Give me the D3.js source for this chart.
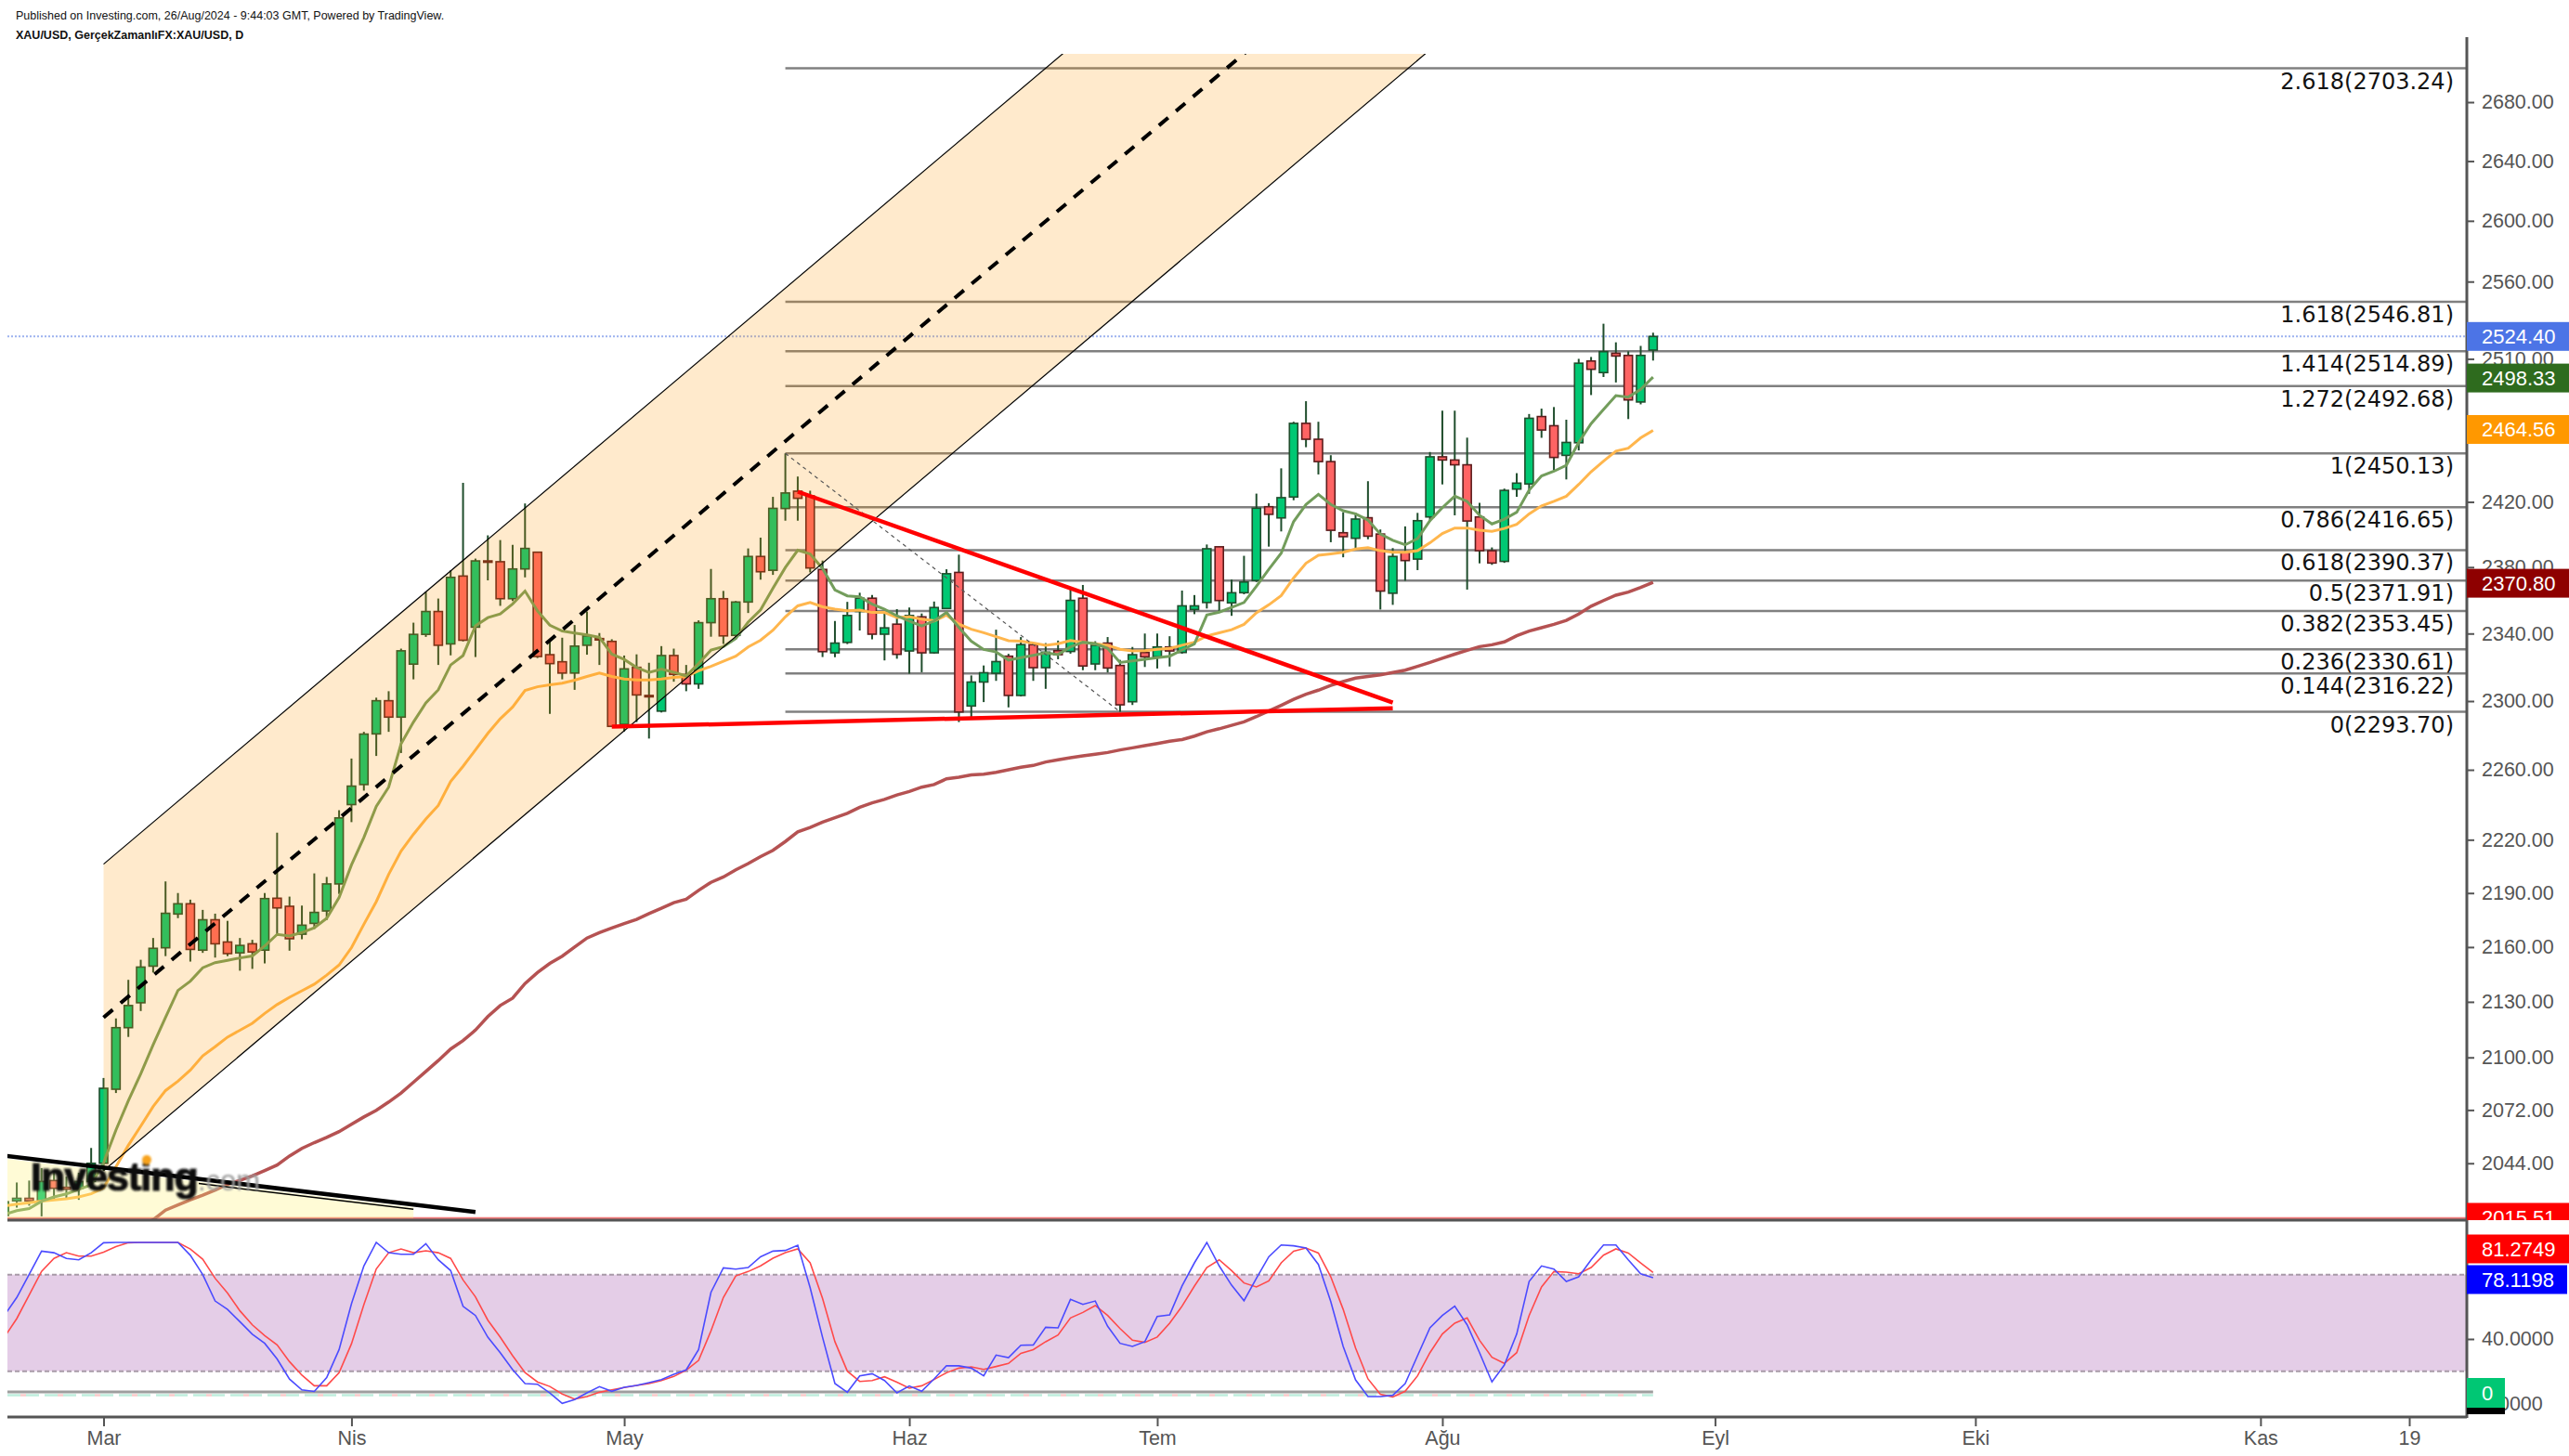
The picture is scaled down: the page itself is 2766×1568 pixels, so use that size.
<!DOCTYPE html>
<html><head><meta charset="utf-8">
<script src="https://cdn.jsdelivr.net/npm/d3@7"></script>
<style>
html,body{margin:0;padding:0;background:#fff;}
svg{display:block;}
</style></head>
<body>
<svg id="chart" width="2766" height="1568"></svg>
<script>
// ---------------- DATA ----------------
const startDate = "2024-02-20";
const holidays = ["2024-03-29"];

const opens = [2017,2024.5,2025.8,2024.5,2035,2031.5,2031,2034.5,2044,2083,
2116,2129.5,2149.5,2159.6,2178.3,2184,2158.3,2175.1,2162.8,2156.8,
2161.8,2158.3,2187.1,2182.6,2167.1,2173.1,2180,2195.1,2240,2251.5,
2280.8,2300.2,2290.6,2321.8,2339.5,2353.2,2333.8,2374.6,2343.8,2383.8,
2383.3,2360.9,2378.9,2389.1,2327.4,2323.2,2316.5,2333,2337,2335.3,
2286.4,2319.9,2303.3,2294.1,2326.9,2315.7,2310.1,2346.5,2360.9,2338.9,
2358.9,2386.5,2378.1,2415.9,2426.6,2423.7,2378.6,2328.5,2334.7,2353.2,
2361.2,2339.6,2345.6,2329.6,2350,2328.5,2355,2376.8,2297.1,2311.2,
2316.4,2326.5,2303.3,2333.4,2319.7,2329.8,2329.3,2361.2,2321.9,2334.3,
2321,2299.6,2328.7,2326.1,2332,2328.7,2354.4,2358.6,2392.4,2358.4,
2364.5,2371.9,2417,2410.1,2423,2469,2459,2445,2401,2397.6,
2410.2,2400.2,2364.2,2388.8,2384.9,2410.7,2448,2446,2443,2410.7,
2390,2383.5,2427.9,2431.1,2473.3,2467.5,2448.9,2456.8,2508.6,2501.2,
2513.6,2512.2,2482.5,2515.6];
const highs = [2032,2034,2035,2041.5,2040,2037,2039,2052,2089,2121,
2142,2153,2165,2196.5,2190,2186.3,2180.6,2178.5,2174.5,2165,
2164,2190,2224,2188,2183,2201,2199,2236.8,2266.5,2282,
2302,2305.8,2331,2346.5,2365,2361,2378,2431.8,2385.2,2399.4,
2396.5,2393.6,2419,2389.5,2335.3,2337.5,2345.1,2353.2,2340.3,2336.6,
2326.9,2327.6,2322.6,2332.5,2331,2321.3,2347.9,2378.9,2365.6,2359.5,
2391.4,2398,2423.1,2450.13,2435.7,2426.9,2384,2347.5,2359,2364.5,
2363.1,2352,2354.6,2355.6,2352,2359.2,2378.7,2387.6,2315.1,2321,
2342.3,2327.9,2337.9,2334,2334.3,2335.8,2366.4,2369.2,2335.4,2337.9,
2324.3,2332,2340,2340,2338.4,2365.8,2363.1,2393.8,2392.6,2372.5,
2386.9,2425.1,2419.2,2440.8,2470,2483,2470,2449,2413.6,2413.2,
2432.8,2403,2391.6,2404.9,2413.2,2451,2477,2477,2460,2419.4,
2392,2428.2,2437.8,2474.9,2478.3,2479.3,2471.3,2510,2511.2,2532.6,
2520.6,2514.8,2518.3,2526.8];
const lows = [2013,2021,2022,2016.5,2025,2026,2025,2031,2040,2081,
2111,2125,2146,2155,2176,2152,2156.8,2154.2,2155,2147,
2148,2151,2167,2158,2164.3,2170,2175,2189.5,2230,2248,
2268,2282,2269.7,2312.8,2338,2321.3,2327,2335.3,2326,2372,
2356.6,2359.5,2373.8,2325.4,2292.5,2312.8,2306.6,2327.4,2321.3,2285,
2282.2,2287.7,2278.1,2293.3,2311.4,2305.8,2307.2,2338.1,2333.8,2336.6,
2352.3,2372.4,2375.3,2408.4,2408.4,2376.8,2326,2325.9,2333.7,2341.8,
2336.5,2324,2325,2316.1,2317,2328,2354.6,2287.7,2290.7,2299.4,
2311.9,2296.3,2302.7,2311.9,2307.2,2324.7,2328,2318.2,2318.2,2316.9,
2293.7,2297.7,2320.1,2319.2,2320.4,2328,2351.6,2355,2352.4,2350.6,
2363.6,2371,2392.5,2401.8,2421,2454,2437,2395.2,2386,2390.7,
2397,2354.4,2357.2,2371.7,2378.2,2408,2430.8,2411.7,2366.4,2382.3,
2381.4,2382.6,2423.1,2425,2459.9,2439.6,2433.9,2452,2486.9,2498.4,
2494.9,2471.7,2481,2508.9];
const closes = [2024,2025.8,2024.5,2034.5,2031,2030.5,2034.5,2044,2083.5,2116,
2128,2149,2159.3,2178.7,2184,2158.7,2175.1,2161.8,2156.4,2160.9,
2157.3,2186.9,2181.7,2164.6,2172.1,2179.2,2195.1,2232.4,2250.6,2280.7,
2300.2,2290.6,2329.7,2339.5,2353.2,2333,2373.8,2336,2383.8,2383.3,
2360.9,2378.9,2391.4,2326.3,2322.1,2316.5,2332.5,2338.6,2336.2,2285.2,
2319,2303.6,2302.8,2326.9,2315.7,2310.1,2346.5,2360.9,2338.6,2358.9,
2386.5,2377.2,2416,2425.5,2422.2,2379.5,2329.2,2334.3,2350.8,2361.2,
2339.6,2343.4,2327.6,2350.8,2328.5,2355.6,2376,2293.6,2311.2,2316.7,
2323.3,2303.3,2333.4,2319.7,2328.9,2327.4,2359.9,2320.7,2333,2319.5,
2297.8,2327.4,2326.1,2332,2329.6,2356.6,2356.6,2391.2,2359.8,2364.5,
2371,2416.1,2412.3,2422.6,2469,2459,2445,2402.5,2398.6,2409.4,
2398.9,2365.5,2386.5,2384,2408.4,2448,2446,2443,2408.2,2390,
2382.5,2427.1,2431.6,2472.2,2464.8,2447.6,2457,2507.2,2503.3,2514.6,
2511.8,2483.8,2512.2,2524.40];

const maFast = [2017.5,2019.4,2020.5,2024.3,2026.5,2028.1,2030.4,2032.8,2044.3,2061.4,
2076.9,2091.2,2106.8,2121.6,2136.2,2141.3,2148.6,2151.4,2152.7,2154,
2155.1,2160.6,2167,2166.1,2168,2170.7,2175.9,2187.5,2205.8,2221.3,
2239,2250,2275,2287.7,2298.9,2306.6,2321.3,2326.9,2344.6,2349.5,
2351.7,2357.8,2365.5,2353.6,2345,2341.5,2340.3,2339.2,2337.7,2327.7,
2324.6,2319.8,2316.9,2318.8,2317,2314.8,2322.2,2330.1,2332.2,2337,
2346.8,2354.2,2367.2,2379.8,2390.3,2388.1,2379.2,2366.2,2362.6,2362,
2357.6,2354.6,2350.6,2347.5,2344.5,2347.5,2352.6,2343.6,2335.4,2330.5,
2329,2324.2,2325.6,2327,2328.5,2327.5,2332,2334.8,2333.9,2331.1,
2322.8,2323.7,2324.7,2325.6,2326.5,2330.2,2333.9,2351.1,2352.8,2355.7,
2358.6,2368.4,2378.7,2388.5,2407.8,2418.4,2424.6,2418.4,2414.5,2412.6,
2408.8,2400.2,2396.4,2393.6,2397.4,2408.4,2416.4,2423.5,2420.3,2411.7,
2406.4,2409.3,2413.6,2427.3,2436.1,2439,2442.7,2457,2468.8,2477.7,
2486.5,2485.6,2490.5,2498.33];
const maMid = [2021.9,2022.8,2023.5,2024.3,2025,2025.6,2026.5,2028.1,2031.2,2042.2,
2053.4,2063.5,2073.8,2082.3,2087.3,2093.2,2100.8,2105.7,2110.9,2114.6,
2118.4,2123.7,2128.5,2132.5,2136,2139.6,2144.6,2150.1,2159.7,2172.6,
2185.2,2200.5,2213.6,2223.1,2231.8,2239.5,2253.3,2262,2271.5,2281.1,
2289.6,2296.5,2306.2,2308.4,2309.6,2310.5,2312.3,2314.5,2316.5,2314.5,
2313,2312.4,2312.4,2313,2314,2314.5,2317.9,2320.5,2323.5,2326.5,
2332,2336,2342,2350,2356.6,2358.6,2356,2354.6,2353.6,2354,
2352.6,2352.6,2349.6,2350,2348.6,2347.6,2351,2345.6,2342.6,2340.5,
2338.1,2335.7,2335.4,2334.3,2333,2333.9,2335.8,2334.8,2333.9,2333,
2330.6,2329.6,2329.8,2330.6,2331.1,2333,2334.8,2338.6,2340.4,2342.3,
2345.5,2352.4,2357.2,2362.8,2373.4,2382.4,2387.2,2388.1,2389.1,2391,
2391.9,2390,2389.1,2389.1,2390,2394.8,2400.5,2403.9,2403.9,2402.6,
2401.9,2403.6,2406.2,2412.6,2417.5,2420.3,2423.5,2430.8,2438.7,2445.3,
2451.5,2453.4,2459.9,2464.56];
const maSlow = [null,null,null,null,null,null,null,null,null,null,
null,2012,2014.7,2019.7,2022.4,2025,2027.4,2030.1,2033,2035.1,
2037.4,2040.2,2043.1,2047.8,2051.8,2054.8,2057.6,2060.6,2064.5,2068.3,
2071.8,2076.2,2081,2086.7,2092.5,2098.3,2104.5,2109,2114.7,2122,
2128,2132,2140,2146,2151,2155,2160,2165,2168,2170.5,
2173,2175.3,2178.5,2181.5,2184.6,2186.5,2191.5,2196,2199,2203,
2206.5,2210.5,2214,2219,2224.5,2227,2230,2232.5,2235,2238.5,
2241,2243,2245.5,2247.5,2250,2251.5,2254.8,2255.7,2257,2257.5,
2258.5,2260,2261.5,2262.5,2264.5,2265.8,2267,2268,2269,2270,
2271.5,2272.7,2274,2275.2,2276.5,2277.5,2279.5,2282,2283.8,2285.8,
2287.8,2290.9,2294.2,2297.5,2301,2304,2306.4,2309.2,2311.5,2313.5,
2314.5,2315.5,2316.8,2318.2,2320.5,2322.8,2325.3,2327.7,2330,2332.2,
2333.3,2335,2338.7,2341.5,2343.5,2345.5,2347.9,2351.7,2356.4,2359.8,
2363,2364.9,2367.7,2370.80];

const stochK = [54.6,65.8,80.2,94.6,93.6,90,89.2,93.6,99.8,100,
100,100,100,100,100,92,80,63.6,58.4,50.7,
43,37.3,27.6,15.1,8.4,7.4,16,33.4,61.9,85.4,
100,93.6,92.6,92.6,99.2,89.2,82.5,60.3,54.6,41.1,
31.5,20.9,12.3,11.9,6.5,0,2.3,6.5,10.4,7.5,
10,11.1,12.9,14.8,18,20.8,33.4,69,84.2,83.4,
84.4,91.1,94.6,95,98.2,71.9,41.1,12.3,6.9,17.1,
18.4,14.2,6.5,10.8,7.5,15.2,23.4,23.3,21.9,17.1,
30,28.4,36.1,36.3,47.3,46.9,64.6,61.5,63.6,47.9,
37.3,35.4,38.3,54,55,72.9,87.3,100,85.4,73.4,
63.8,77.7,91.1,98.4,97.9,96.5,86.3,63.2,35.4,14.6,
4.2,4.2,5,12.3,29.6,46.9,54.6,60.4,48.8,31.5,
13.3,23.8,43.1,75.7,85.4,83.4,75.7,78.6,89.2,98.4,
98.4,89.2,80.5,78.1198];
const stochD = [41.1,52.7,67.3,82,90.1,93.6,91.5,91.5,94,97.4,
99.8,100,100,100,100,95.9,89.6,77.7,68.5,57.5,
48.8,42.1,36.3,25.9,17.5,10.9,10.9,19.1,37,61.3,
83.5,93.6,95.9,93.6,94.8,93.6,90.1,76.7,66.2,51.7,
41.1,29.6,19.1,13.3,10.5,5.8,2.7,4.2,6.9,8.4,
9.8,11.1,12.3,14.2,16.7,20.6,26.7,45,65.8,79.2,
81.9,85.4,90.2,93.6,96,87.3,65.2,38.3,20,13.6,
14.2,16.5,13.2,9.4,10.9,14.8,19,21.9,22.7,21.1,
22.9,24.8,31.1,33.4,38.3,42.5,53.1,56.5,60.8,54.6,
46.5,39.2,37.9,41.2,49.8,60.4,72.9,84.4,89.2,82.5,
74.8,72.3,76.1,87.3,94.6,96.5,93.4,78.6,58.4,34.4,
15.2,5.6,4,7.5,17.1,31.5,43.1,49.8,53.1,39.2,
28.6,24.8,31.5,54.6,72.3,81.9,81.5,80.5,84.4,92.1,
96,93.4,87.3,81.2749];

const fibNames = ["0","0.144","0.236","0.382","0.5","0.618","0.786","1","1.272","1.414","1.618","2.618"];
const fibValues = [2293.70,2316.22,2330.61,2353.45,2371.91,2390.37,2416.65,2450.13,2492.68,2514.89,2546.81,2703.24];
const fibStartDate = "2024-05-20";
const fibEndDate = "2024-06-26";

const channelDates = ["2024-03-01","2024-05-15"];
const channelUpper = [2206.2,2535.3];
const channelMid = [2121.5,2438.1];
const channelLower = [2040.1,2344.5];

const triUpperDates = ["2024-05-21","2024-07-26"];
const triUpperPrices = [2426.3,2299.1];
const triLowerDates = ["2024-04-30","2024-07-26"];
const triLowerPrices = [2285.0,2295.8];

const trendDates = ["2024-02-20","2024-04-15"];
const trendPrices = [2048.0,2018.7];
const zoneEndDate = "2024-04-08";
const supportLevel = 2015.51;

const priceTicks = [2680,2640,2600,2560,2510,2420,2380,2340,2300,2260,2220,2190,2160,2130,2100,2072,2044];
const stochTicks = [0,40];
const monthTickDates = ["2024-03-01","2024-04-01","2024-05-01","2024-06-03","2024-07-01","2024-08-01","2024-09-02","2024-10-01","2024-11-01","2024-11-19"];
const monthTickLabels = ["Mar","Nis","May","Haz","Tem","Ağu","Eyl","Eki","Kas","19"];
const zeroIndicator = 0;

// ---------------- HELPERS ----------------
function tradingDates(start, n){
  const out=[]; const d=new Date(start+"T00:00:00Z");
  while(out.length<n){
    const wd=d.getUTCDay(); const s=d.toISOString().slice(0,10);
    if(wd!==0 && wd!==6 && !holidays.includes(s)) out.push(s);
    d.setUTCDate(d.getUTCDate()+1);
  }
  return out;
}
const dates = tradingDates(startDate, 200);
const idx = s => dates.indexOf(s);

const W=2766, H=1568, L=8, R=2656, T=58, MB=1314, SB=1526;
const FONT = "'Liberation Sans', Arial, sans-serif";

const svg = d3.select("#chart");
svg.append("rect").attr("width",W).attr("height",H).attr("fill","#fff");

const x = d3.scaleLinear().domain([8,194]).range([111.5,2594]);
const y = d3.scaleLog().domain([2300,2680]).range([755,110]);
const ys = d3.scaleLinear().domain([0,100]).range([1511.3,1338]);

const defs = svg.append("defs");
defs.append("clipPath").attr("id","mainClip").append("rect").attr("x",L).attr("y",T).attr("width",R-L).attr("height",MB-T);
defs.append("clipPath").attr("id","stochClip").append("rect").attr("x",L).attr("y",MB).attr("width",R-L).attr("height",SB-MB);
defs.append("clipPath").attr("id","lblClip").append("rect").attr("x",R).attr("y",T-20).attr("width",W-R).attr("height",MB-T+20);
const blur = defs.append("filter").attr("id","blur").attr("x","-5%").attr("y","-20%").attr("width","110%").attr("height","140%");
blur.append("feGaussianBlur").attr("stdDeviation",0.9);

// ---------------- HEADER ----------------
svg.append("text").attr("x",17).attr("y",21).attr("font-family",FONT).attr("font-size",12.5).attr("fill","#111")
  .text("Published on Investing.com, 26/Aug/2024 - 9:44:03 GMT, Powered by TradingView.");
svg.append("text").attr("x",17).attr("y",42).attr("font-family",FONT).attr("font-size",12.5).attr("font-weight","bold").attr("fill","#111")
  .text("XAU/USD, GerçekZamanlıFX:XAU/USD, D");

// ---------------- MAIN PANEL ----------------
const main = svg.append("g").attr("clip-path","url(#mainClip)");

main.append("line").attr("x1",L).attr("x2",R).attr("y1",y(closes[closes.length-1])).attr("y2",y(closes[closes.length-1]))
  .attr("stroke","#9db2ef").attr("stroke-width",2).attr("stroke-dasharray","2,2");
main.append("line").attr("x1",L).attr("x2",R).attr("y1",y(supportLevel)).attr("y2",y(supportLevel))
  .attr("stroke","#f07a7a").attr("stroke-width",2.5);

const fx0 = x(idx(fibStartDate));
main.selectAll("line.fib").data(fibValues).enter().append("line").attr("class","fib")
  .attr("x1",fx0).attr("x2",R).attr("y1",d=>y(d)).attr("y2",d=>y(d))
  .attr("stroke","#808080").attr("stroke-width",2.5);

const bars = d3.range(closes.length);
const cg = main.append("g");
cg.selectAll("line.wick").data(bars).enter().append("line")
  .attr("x1",i=>x(i)).attr("x2",i=>x(i)).attr("y1",i=>y(highs[i])).attr("y2",i=>y(lows[i]))
  .attr("stroke","#1f4d2c").attr("stroke-width",2);
cg.selectAll("rect.body").data(bars).enter().append("rect")
  .attr("x",i=>x(i)-4.5).attr("width",9)
  .attr("y",i=>y(Math.max(opens[i],closes[i])))
  .attr("height",i=>Math.max(1.5,Math.abs(y(opens[i])-y(closes[i]))))
  .attr("fill",i=>closes[i]>=opens[i]?"#00c873":"#ff6464")
  .attr("stroke",i=>closes[i]>=opens[i]?"#1f4d2c":"#5c1c1c").attr("stroke-width",1.6);

const lineP = arr => d3.line().defined(i=>arr[i]!=null).x(i=>x(i)).y(i=>y(arr[i]));
main.append("path").attr("d",lineP(maSlow)(bars)).attr("fill","none").attr("stroke","#b55252").attr("stroke-width",3.5);
main.append("path").attr("d",lineP(maMid)(bars)).attr("fill","none").attr("stroke","#ffb64d").attr("stroke-width",3);
main.append("path").attr("d",lineP(maFast)(bars)).attr("fill","none").attr("stroke","#739d5c").attr("stroke-width",3);

function extLine(dts, prices){
  const x1=x(idx(dts[0])), y1=y(prices[0]), x2=x(idx(dts[1])), y2=y(prices[1]);
  const m=(y2-y1)/(x2-x1);
  return [[x1,y1],[R+50, y1+m*(R+50-x1)]];
}
const up = extLine(channelDates, channelUpper);
const lo = extLine(channelDates, channelLower);
const mid = extLine(channelDates, channelMid);
main.append("path").attr("d", d3.line()([up[0],up[1],lo[1],lo[0]])+"Z")
  .attr("fill","rgba(255,152,0,0.2)").attr("stroke","none");
main.append("path").attr("d",d3.line()(up)).attr("stroke","#000").attr("stroke-width",1.2).attr("fill","none");
main.append("path").attr("d",d3.line()(lo)).attr("stroke","#000").attr("stroke-width",1.2).attr("fill","none");
main.append("path").attr("d",d3.line()(mid)).attr("stroke","#000").attr("stroke-width",4).attr("stroke-dasharray","13,11").attr("fill","none");

main.append("line").attr("x1",fx0).attr("y1",y(fibValues[7])).attr("x2",x(idx(fibEndDate))).attr("y2",y(fibValues[0]))
  .attr("stroke","#555").attr("stroke-width",1.2).attr("stroke-dasharray","4,4");

main.append("line").attr("x1",x(idx(triUpperDates[0]))).attr("y1",y(triUpperPrices[0]))
  .attr("x2",x(idx(triUpperDates[1]))).attr("y2",y(triUpperPrices[1]))
  .attr("stroke","#ff0000").attr("stroke-width",4.5);
main.append("line").attr("x1",x(idx(triLowerDates[0]))).attr("y1",y(triLowerPrices[0]))
  .attr("x2",x(idx(triLowerDates[1]))).attr("y2",y(triLowerPrices[1]))
  .attr("stroke","#ff0000").attr("stroke-width",4.5);

const tx1=x(idx(trendDates[0])), ty1=y(trendPrices[0]), tx2=x(idx(trendDates[1])), ty2=y(trendPrices[1]);
const tm=(ty2-ty1)/(tx2-tx1);
const zx1=L, zx2=x(idx(zoneEndDate));
main.append("path").attr("d", d3.line()([[zx1,ty1+tm*(zx1-tx1)+3],[zx2,ty1+tm*(zx2-tx1)+3],[zx2,y(supportLevel)],[zx1,y(supportLevel)]])+"Z")
  .attr("fill","rgba(255,241,118,0.3)");
main.append("line").attr("x1",214).attr("y1",ty1+tm*(214-tx1)+5).attr("x2",zx2).attr("y2",ty1+tm*(zx2-tx1)+5)
  .attr("stroke","#000").attr("stroke-width",1.5);
main.append("line").attr("x1",tx1).attr("y1",ty1).attr("x2",tx2).attr("y2",ty2)
  .attr("stroke","#000").attr("stroke-width",4.5);

const wm = main.append("g").attr("filter","url(#blur)");
wm.append("text").attr("x",33).attr("y",1282).attr("font-family",FONT).attr("font-weight","bold").attr("font-size",43)
  .attr("letter-spacing",-1).attr("fill","#111").attr("stroke","#111").attr("stroke-width",1.2).text("Investing");
wm.append("text").attr("x",213).attr("y",1282).attr("font-family",FONT).attr("font-size",31).attr("fill","#9c9c9c").text(".com");
wm.append("circle").attr("cx",158).attr("cy",1249).attr("r",5).attr("fill","#f7a21b");

svg.append("g").selectAll("text").data(fibValues).enter().append("text")
  .attr("x",2642).attr("y",d=>y(d)+22).attr("text-anchor","end")
  .attr("font-family","'DejaVu Sans', Verdana, sans-serif").attr("font-size",24).attr("fill","#131313")
  .text((d,i)=>fibNames[i]+"("+d.toFixed(2)+")");

// ---------------- STOCH PANEL ----------------
const st = svg.append("g").attr("clip-path","url(#stochClip)");
st.append("rect").attr("x",L).attr("width",R-L).attr("y",ys(80)).attr("height",ys(20)-ys(80)).attr("fill","#e4cde7");
[80,20].forEach(v=>st.append("line").attr("x1",L).attr("x2",R).attr("y1",ys(v)).attr("y2",ys(v))
  .attr("stroke","#a89aa8").attr("stroke-width",2).attr("stroke-dasharray","5,3"));
st.append("line").attr("x1",L).attr("x2",x(bars.length-1)).attr("y1",1499).attr("y2",1499).attr("stroke","#9e9e9e").attr("stroke-width",3);
st.append("line").attr("x1",L).attr("x2",x(bars.length-1)).attr("y1",1502.5).attr("y2",1502.5).attr("stroke","#bfeedd").attr("stroke-width",2.5).attr("stroke-dasharray","14,6");
st.append("line").attr("x1",L+14).attr("x2",x(bars.length-1)).attr("y1",1502.5).attr("y2",1502.5).attr("stroke","#f9caca").attr("stroke-width",2.5).attr("stroke-dasharray","6,34");
const sLine = arr => d3.line().x(i=>x(i)).y(i=>ys(arr[i]));
st.append("path").attr("d",sLine(stochD)(bars)).attr("fill","none").attr("stroke","#ff4a4a").attr("stroke-width",1.6);
st.append("path").attr("d",sLine(stochK)(bars)).attr("fill","none").attr("stroke","#4b4bff").attr("stroke-width",1.6);

// ---------------- AXES ----------------
const styleAxis = g => {
  g.select(".domain").remove();
  g.selectAll(".tick line").attr("stroke","#555").attr("stroke-width",2);
  g.selectAll(".tick text").attr("font-family",FONT).attr("font-size",21.5).attr("fill","#555");
};
svg.append("g").attr("transform",`translate(${R},0)`)
  .call(d3.axisRight(y).tickValues(priceTicks).tickFormat(d=>d.toFixed(2)).tickSize(8).tickPadding(8)).call(styleAxis);
svg.append("g").attr("transform",`translate(${R},0)`)
  .call(d3.axisRight(ys).tickValues(stochTicks).tickFormat(d=>d.toFixed(4)).tickSize(8).tickPadding(8)).call(styleAxis);
svg.append("g").attr("transform",`translate(0,${SB})`)
  .call(d3.axisBottom(x).tickValues(monthTickDates.map(idx)).tickFormat((d,i)=>monthTickLabels[i]).tickSize(10).tickPadding(5))
  .call(styleAxis);

svg.append("line").attr("x1",R).attr("x2",R).attr("y1",T-18).attr("y2",SB+1).attr("stroke","#555").attr("stroke-width",3);
svg.append("line").attr("x1",L).attr("x2",R).attr("y1",MB).attr("y2",MB).attr("stroke","#555").attr("stroke-width",3);
svg.append("line").attr("x1",L).attr("x2",R).attr("y1",SB).attr("y2",SB).attr("stroke","#555").attr("stroke-width",3);

// ---------------- PRICE LABELS ----------------
function tag(cy, color, text, clip, w){
  const g = svg.append("g");
  if(clip) g.attr("clip-path","url(#lblClip)");
  g.append("rect").attr("x",R).attr("y",cy-15.5).attr("width",w||(W-R)).attr("height",31).attr("fill",color);
  g.append("text").attr("x",R+16).attr("y",cy).attr("dy","0.36em").attr("font-family",FONT).attr("font-size",22)
    .attr("fill","#fff").text(text);
}
tag(y(closes[closes.length-1]), "#4c74e6", closes[closes.length-1].toFixed(2));
tag(y(maFast[maFast.length-1])+1, "#2e6b1e", maFast[maFast.length-1].toFixed(2));
tag(y(maMid[maMid.length-1])-1, "#ff9800", maMid[maMid.length-1].toFixed(2));
tag(y(maSlow[maSlow.length-1])+1, "#8e0000", maSlow[maSlow.length-1].toFixed(2));
tag(y(supportLevel)-1, "#ff0000", supportLevel.toFixed(2), true);
tag(1345, "#ff0000", stochD[stochD.length-1].toFixed(4));
tag(1378, "#0000ff", stochK[stochK.length-1].toFixed(4), false, 108);
svg.append("rect").attr("x",R).attr("y",1484).attr("width",41).attr("height",32).attr("fill","#00c774");
svg.append("rect").attr("x",R).attr("y",1516).attr("width",41).attr("height",7).attr("fill","#000");
svg.append("text").attr("x",R+16).attr("y",1500).attr("dy","0.36em").attr("font-family",FONT).attr("font-size",22).attr("fill","#fff").text(String(zeroIndicator));
</script>
</body></html>
